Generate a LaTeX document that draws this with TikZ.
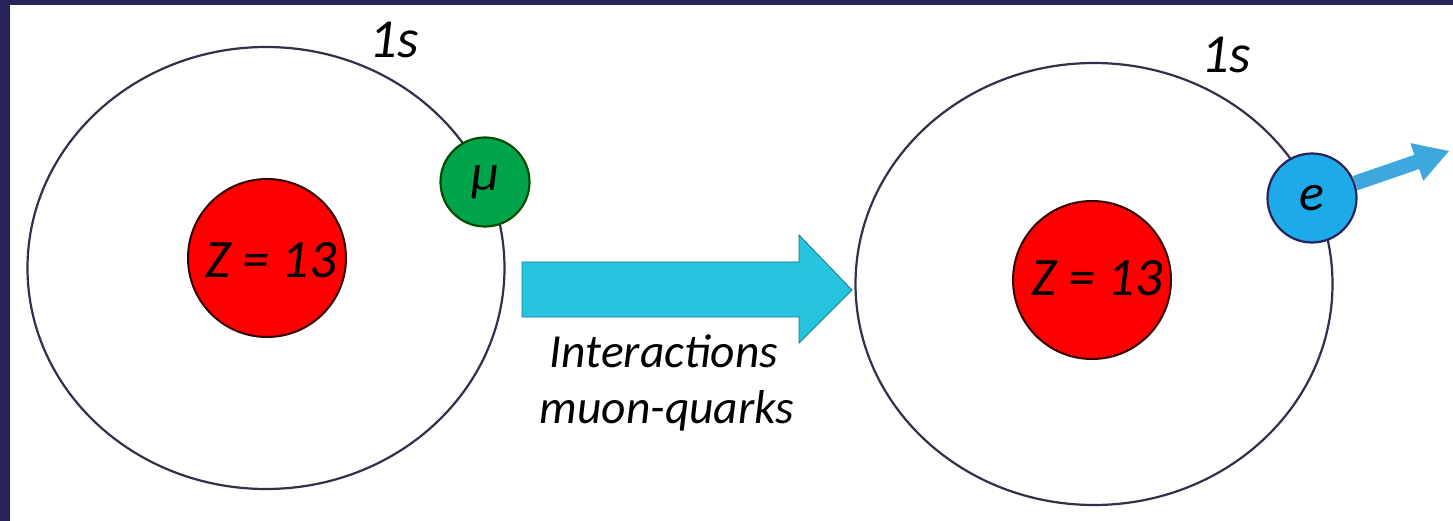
\documentclass[tikz,border=0pt]{standalone}
\usepackage{fontspec}
\setmainfont{Carlito}
\usetikzlibrary{arrows.meta,calc,shapes.geometric}
\definecolor{frame}{RGB}{38,36,89}
\definecolor{orbitc}{RGB}{48,48,72}
\definecolor{nucred}{RGB}{255,0,0}
\definecolor{muong}{RGB}{0,165,75}
\definecolor{elecb}{RGB}{28,170,232}
\definecolor{arrowb}{RGB}{60,168,222}
\definecolor{bigcyan}{RGB}{38,196,224}
\tikzset{
  orbit/.style={draw=orbitc, line width=2.2pt, ellipse, minimum width=477pt, minimum height=442pt, inner sep=0pt},
  nucleus/.style={circle, draw=black!80!red, line width=2pt, fill=nucred, minimum size=158pt, inner sep=0pt},
  particle/.style={circle, line width=2.2pt, minimum size=89pt, inner sep=0pt, font=\fontsize{52}{60}\selectfont\itshape},
  lbl/.style={font=\fontsize{55}{60}\selectfont\itshape, inner sep=0pt, anchor=base},
  zlbl/.style={font=\fontsize{54}{60}\selectfont\itshape, inner sep=0pt, anchor=base},
  caption/.style={font=\fontsize{47.5}{56}\selectfont\itshape, inner sep=0pt, anchor=base},
}
\begin{document}
\begin{tikzpicture}[x=1pt,y=-1pt]
\useasboundingbox (0,0) rectangle (1453,521);
\fill[frame] (0,0) rectangle (1453,521);
\fill[white] (10,5) rectangle (1453,521);
% left atom
\node[orbit] (orbL) at (266,268) {};
\node[nucleus] (nucL) at (267,258) {};
\node[zlbl] (zL) at (271,277) {Z = 13};
\node[particle, draw=black!70!green, fill=muong] (mu) at (485,182) {μ};
\node[lbl] (sL) at (394,58) {1s};
% right atom
\node[orbit] (orbR) at (1094,284) {};
\node[nucleus] (nucR) at (1092,280) {};
\node[zlbl] (zR) at (1097,295) {Z = 13};
\node[particle, draw=frame, fill=elecb] (el) at (1312,198) {e};
\node[lbl] (sR) at (1226,73) {1s};
% electron arrow
\coordinate (etip) at (1449,151);
\coordinate (hb) at (1416.8,162.0);
\coordinate (hs) at (1419.6,161.0);
\coordinate (h1) at (1423.3,180.9);
\coordinate (h2) at (1410.3,143.1);
\draw[arrowb, line width=15pt] (el) -- (hs);
\fill[arrowb] (h1) -- (etip) -- (h2) -- cycle;
% big arrow
\filldraw[fill=bigcyan, draw=bigcyan!60!black, line width=0.8pt]
  (522,262) -- (799,262) -- (799,235) -- (852,290) -- (799,343) -- (799,317) -- (522,317) -- cycle;
\node[caption] (t1) at (664,367) {Interactions};
\node[caption] (t2) at (667,423) {muon-quarks};
\end{tikzpicture}
\end{document}
